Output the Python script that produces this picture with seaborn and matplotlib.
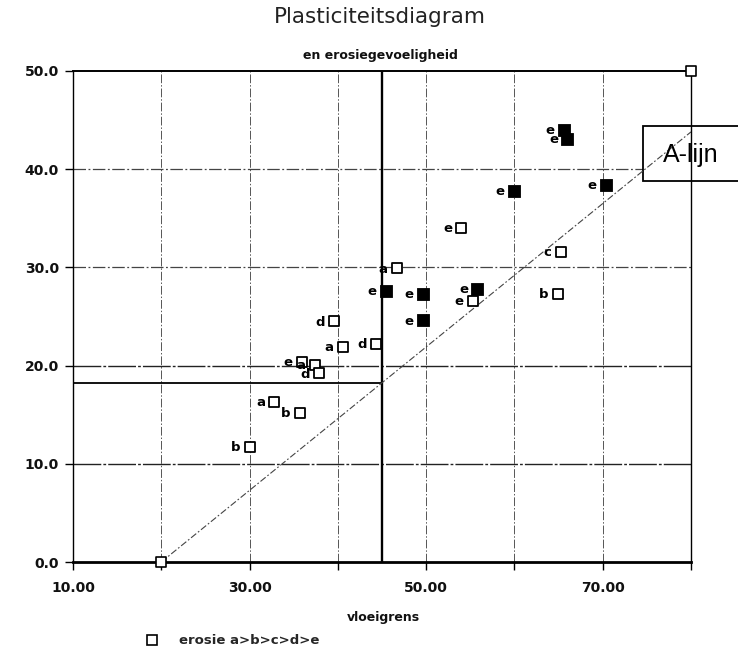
import matplotlib
matplotlib.use("Agg")
import matplotlib.pyplot as plt
from matplotlib.lines import Line2D
from matplotlib.patches import Rectangle
import seaborn as sns
import pandas as pd

# ---- data ----
vloeigrens = [65.6, 66.0, 70.4, 59.9, 54.0, 65.3, 46.7, 45.4, 49.6, 55.8, 55.3,
              64.9, 39.6, 49.6, 40.6, 44.3, 35.9, 37.4, 37.9, 32.8, 35.7, 30.0]
plasticiteit = [44.0, 43.1, 38.4, 37.8, 34.0, 31.6, 29.9, 27.6, 27.3, 27.8, 26.6,
                27.3, 24.5, 24.6, 21.9, 22.2, 20.4, 20.1, 19.2, 16.3, 15.2, 11.7]
erosieklasse = ['e', 'e', 'e', 'e', 'e', 'c', 'a', 'e', 'e', 'e', 'e',
                'b', 'd', 'e', 'a', 'd', 'e', 'a', 'd', 'a', 'b', 'b']
gevuld = [True, True, True, True, False, False, False, True, True, True, False,
          False, False, True, False, False, False, False, False, False, False, False]

hoek_ll = [20, 80]
hoek_pi = [0, 50]

alijn_ll = [20, 80]
alijn_pi = [0, 43.8]

grens_ll = [10, 45]
grens_pi = [18.2, 18.2]
grens_vert = 45

x_ticks = [10, 20, 30, 40, 50, 60, 70, 80]
x_ticklabels = ['10.00', '', '30.00', '', '50.00', '', '70.00', '']
y_ticks = [0, 10, 20, 30, 40, 50]
y_ticklabels = ['0.0', '10.0', '20.0', '30.0', '40.0', '50.0']
x_grid = [20, 30, 40, 50, 60, 70]
y_grid_solid = [10, 20]
y_grid_dash = [30, 40]

df = pd.DataFrame({'ll': vloeigrens, 'pi': plasticiteit,
                   'klasse': erosieklasse, 'gevuld': gevuld})
df_hoek = pd.DataFrame({'ll': hoek_ll, 'pi': hoek_pi})

sns.set_theme(style="white")
plt.rcParams['font.family'] = ['DejaVu Sans']

W, H = 738, 651
fig = plt.figure(figsize=(W / 100, H / 100), dpi=100)
ax = fig.add_axes([73 / W, 89 / H, 618 / W, 491 / H])
ax.set_xlim(10, 80)
ax.set_ylim(0, 50)

# grid lines
for gx in x_grid:
    ax.axvline(gx, color='#555555', lw=0.7, ls=(0, (9, 2, 1.5, 2)), zorder=1)
for gy in y_grid_solid:
    ax.axhline(gy, color='#222222', lw=1.0, ls=(0, (20, 1.5, 2, 1.5)), zorder=1)
for gy in y_grid_dash:
    ax.axhline(gy, color='#444444', lw=0.9, ls=(0, (10, 2, 1.5, 2)), zorder=1)
ax.axvline(grens_vert, color='black', lw=1.7, zorder=2)
ax.plot(grens_ll, grens_pi, color='black', lw=1.3, zorder=2)

# A-line
ax.plot(alijn_ll, alijn_pi, color='#444444', lw=0.8, ls=(0, (6, 2, 1.5, 2)), zorder=2)

# points
sns.scatterplot(data=df[~df['gevuld']], x='ll', y='pi', marker='s', s=55,
                color='white', edgecolor='black', linewidth=1.3, ax=ax,
                zorder=4, legend=False)
sns.scatterplot(data=df[df['gevuld']], x='ll', y='pi', marker='s', s=70,
                color='black', edgecolor='black', linewidth=0.6, ax=ax,
                zorder=4, legend=False)
sns.scatterplot(data=df_hoek, x='ll', y='pi', marker='s', s=45,
                color='white', edgecolor='black', linewidth=1.2, ax=ax,
                zorder=4, legend=False, clip_on=False)

for _, r in df.iterrows():
    ax.annotate(r['klasse'], (r['ll'], r['pi']), xytext=(-10, -0.5),
                textcoords='offset points', ha='center', va='center',
                fontsize=9.5, fontweight='bold', color='black', zorder=5)

# spines / ticks
for s in ax.spines.values():
    s.set_visible(True)
    s.set_color('black')
    s.set_linewidth(1.0)
ax.spines['bottom'].set_linewidth(2.0)
ax.spines['top'].set_linewidth(1.4)

ax.set_xticks(x_ticks)
ax.set_xticklabels(x_ticklabels)
ax.set_yticks(y_ticks)
ax.set_yticklabels(y_ticklabels)
ax.tick_params(axis='both', direction='out', length=6, width=1.0,
               color='black', labelsize=10, labelcolor='#111111',
               bottom=True, left=True, pad=4)
ax.tick_params(axis='x', pad=8)
for lab in ax.get_xticklabels() + ax.get_yticklabels():
    lab.set_fontweight('bold')

ax.set_xlabel('')
ax.set_ylabel('')
fig.text(383 / W, 1 - 617 / H, 'vloeigrens', ha='center', va='center',
         fontsize=9, fontweight='bold', color='#111111')

# titles
fig.text(380 / W, 1 - 17 / H, 'Plasticiteitsdiagram', ha='center', va='center',
         fontsize=15.5, color='#222222')
fig.text(380 / W, 1 - 55 / H, 'en erosiegevoeligheid', ha='center', va='center',
         fontsize=9, fontweight='bold', color='#111111')

# legend
handle = Line2D([], [], marker='s', ls='none', mfc='white', mec='black',
                mew=1.2, ms=7)
fig.legend(handles=[handle], labels=['erosie a>b>c>d>e'], loc='center left',
           bbox_to_anchor=(145 / W, 1 - 641 / H), bbox_transform=fig.transFigure,
           frameon=False, handlelength=1.0, handletextpad=1.6, borderpad=0,
           borderaxespad=0, prop=dict(weight='bold', size=9.5))

# A-lijn box
box = Rectangle((643 / W, 1 - 181 / H), 0.2, 55 / H, transform=fig.transFigure,
                facecolor='white', edgecolor='black', lw=1.3, clip_on=False,
                zorder=1.5)
ax.add_patch(box)
ax.text(663 / W, 1 - 155 / H, 'A-lijn', transform=fig.transFigure,
        fontsize=18, family=['Liberation Sans', 'DejaVu Sans'], ha='left',
        va='center', color='black', zorder=6, clip_on=False)

fig.savefig('out.png', dpi=100, facecolor='white')
